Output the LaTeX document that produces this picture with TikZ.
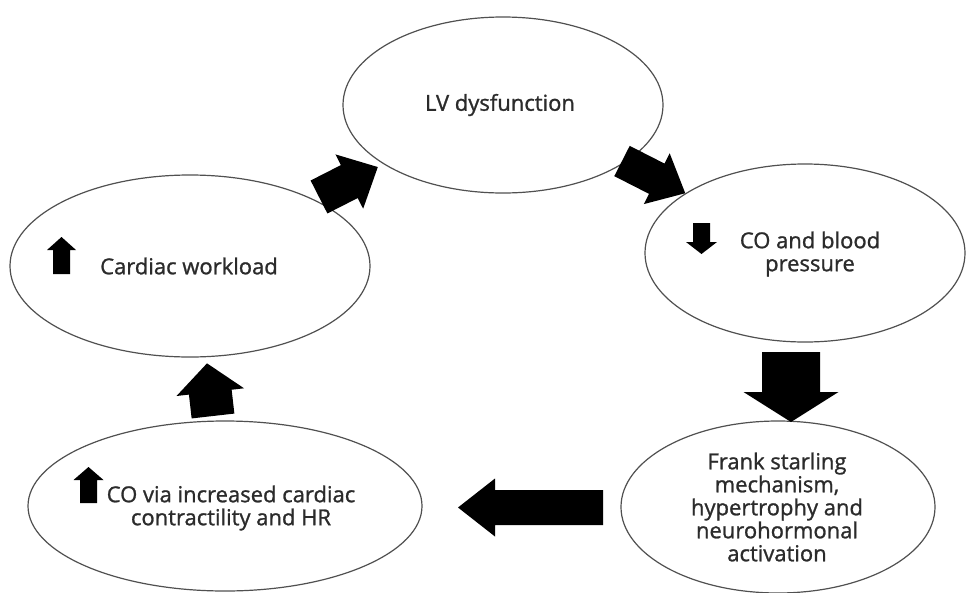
\documentclass[tikz,border=0pt]{standalone}
\usepackage{fontspec}
\setmainfont[FakeBold=1.1]{Open Sans}
\usetikzlibrary{shapes.geometric}
\definecolor{txt}{HTML}{2B2B2B}
\definecolor{edge}{HTML}{505050}
\tikzset{
  oval/.style={ellipse, draw=edge, line width=1.2pt, inner sep=0pt},
  lbl/.style={text=txt, font=\fontsize{22}{23}\selectfont, align=center, inner sep=0pt},
  pics/barrow/.style args={#1/#2/#3/#4}{code={
    \fill[black] (0,-#2/2) -- (#1-#4,-#2/2) -- (#1-#4,-#3/2) -- (#1,0)
      -- (#1-#4,#3/2) -- (#1-#4,#2/2) -- (0,#2/2) -- cycle;}}
}
\begin{document}
\begin{tikzpicture}[x=1pt,y=-1pt]
\useasboundingbox[fill=white] (0,0) rectangle (967,592);
% ellipses
\node[oval, minimum width=320pt, minimum height=176pt] (lv) at (503,105) {};
\node[oval, minimum width=360pt, minimum height=182pt] (cw) at (190,266) {};
\node[oval, minimum width=320pt, minimum height=178pt] (co) at (805,253) {};
\node[oval, minimum width=314pt, minimum height=172pt] (fs) at (778,507) {};
\node[oval, minimum width=394pt, minimum height=170pt] (ci) at (225,506) {};
% texts
\node[lbl] (tlv) at (500,105) {LV dysfunction};
\node[lbl, anchor=west] (tcw) at (100,266) {Cardiac workload};
\node[lbl] (tco) at (810,254) {CO and blood\\pressure};
\node[lbl] (tfs) at (777,507) {Frank starling\\mechanism,\\hypertrophy and\\neurohormonal\\activation};
\node[lbl] (tci) at (231,508) {CO via increased cardiac\\contractility and HR};
% big block arrows
\pic[rotate=27]  at (319,197) {barrow={66/37/61/32}};
\pic[rotate=-27] at (622,161) {barrow={71/34/57/32}};
\pic[rotate=-90] at (791,352) {barrow={70/58/95/30}};
\pic[rotate=180] at (603,507.5) {barrow={145/35/58/37}};
\pic[rotate=96.5] at (213,416) {barrow={53/43/68/29}};
% small arrows
\pic[rotate=90]  at (61.5,274) {barrow={37/17/29/13}};
\pic[rotate=-90] at (701.5,223) {barrow={31/17/31/12}};
\pic[rotate=90]  at (88.5,503) {barrow={36/17/30/13}};
\end{tikzpicture}
\end{document}
